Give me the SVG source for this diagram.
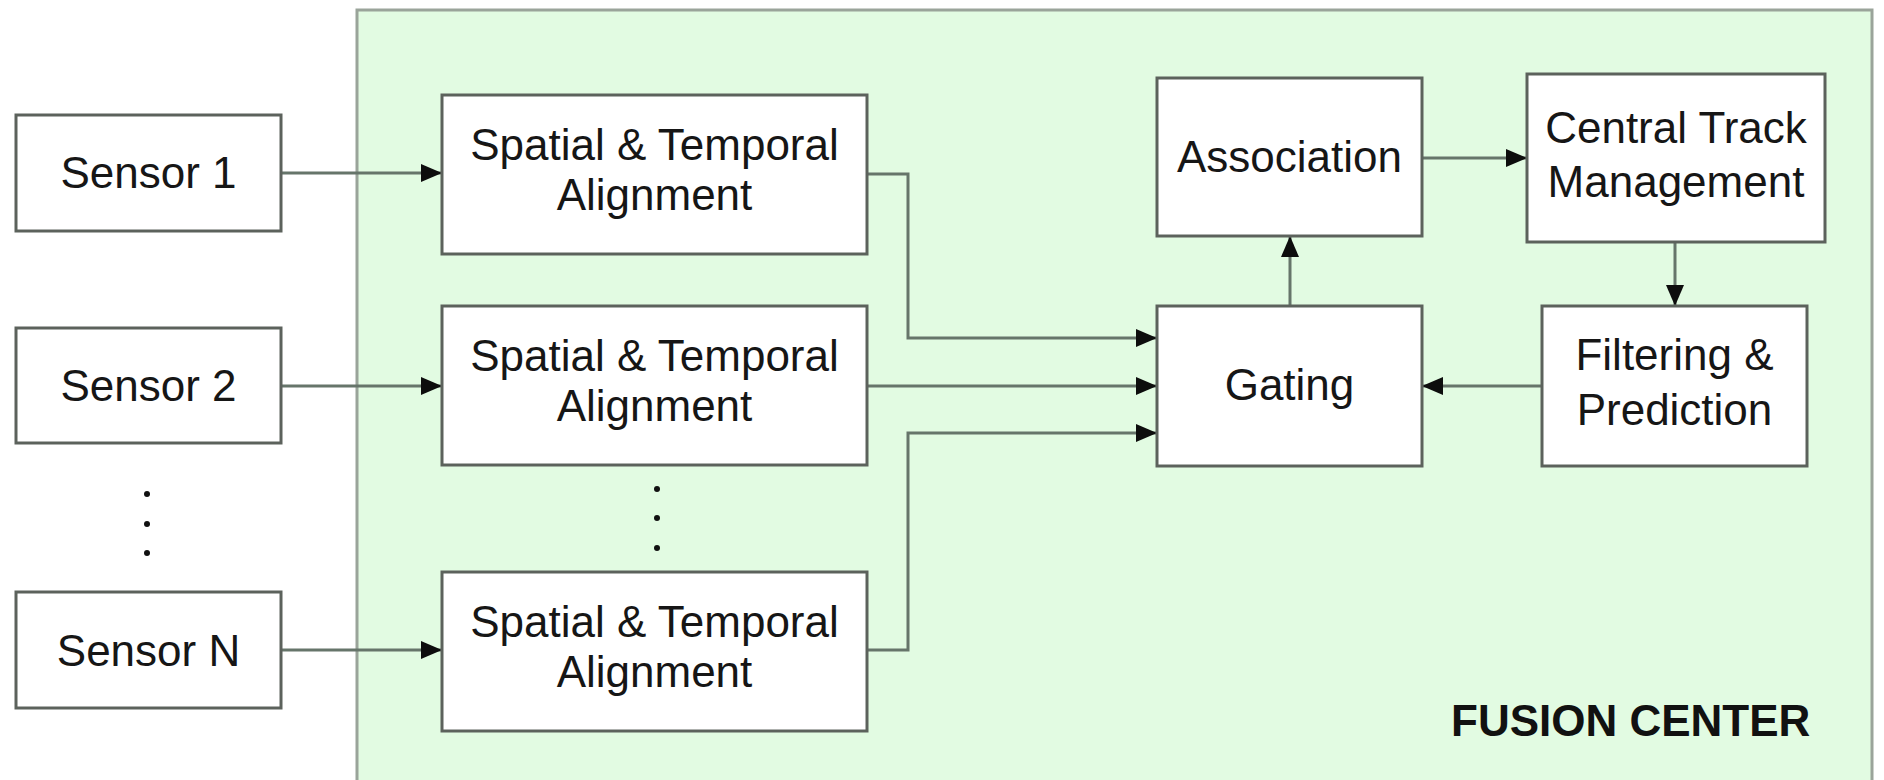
<svg xmlns="http://www.w3.org/2000/svg" width="1884" height="780" viewBox="0 0 1884 780">
<style>
.box{fill:#ffffff;stroke:#5c625c;stroke-width:3}
.t{font-family:"Liberation Sans",Arial,sans-serif;font-size:44px;fill:#161616;text-anchor:middle}
.b{font-family:"Liberation Sans",Arial,sans-serif;font-size:44px;font-weight:bold;fill:#111}
.c{fill:none;stroke:#66756a;stroke-width:3}
.dot{fill:#111}
</style>
<defs>
<marker id="ah" markerUnits="userSpaceOnUse" markerWidth="22" markerHeight="20" refX="21" refY="9" orient="auto">
<path d="M0,0 L21,9 L0,18 z" fill="#0d0d0d"/>
</marker>
</defs>
<rect width="1884" height="780" fill="#ffffff"/>
<g id="fusion-center">
<rect x="357" y="10" width="1515" height="800" fill="#e2fbe2" stroke="#9aa49a" stroke-width="3"/>
<text class="b" x="1451" y="736">FUSION CENTER</text>
</g>
<g id="connectors">
<path class="c" d="M281,173 H442" marker-end="url(#ah)"/>
<path class="c" d="M281,386 H442" marker-end="url(#ah)"/>
<path class="c" d="M281,650 H442" marker-end="url(#ah)"/>
<path class="c" d="M867,174 H908 V338 H1157" marker-end="url(#ah)"/>
<path class="c" d="M867,386 H1157" marker-end="url(#ah)"/>
<path class="c" d="M867,650 H908 V433 H1157" marker-end="url(#ah)"/>
<path class="c" d="M1290,306 V236" marker-end="url(#ah)"/>
<path class="c" d="M1422,158 H1527" marker-end="url(#ah)"/>
<path class="c" d="M1675,242 V306" marker-end="url(#ah)"/>
<path class="c" d="M1542,386 H1422" marker-end="url(#ah)"/>
</g>
<g id="sensor1"><rect class="box" x="16" y="115" width="265" height="116"/><text class="t" x="148.5" y="188">Sensor 1</text></g>
<g id="sensor2"><rect class="box" x="16" y="328" width="265" height="115"/><text class="t" x="148.5" y="401">Sensor 2</text></g>
<g id="sensorN"><rect class="box" x="16" y="592" width="265" height="116"/><text class="t" x="148.5" y="666">Sensor N</text></g>
<g id="sensor-dots"><circle class="dot" cx="147" cy="494" r="3"/><circle class="dot" cx="147" cy="524" r="3"/><circle class="dot" cx="147" cy="553" r="3"/></g>
<g id="align1"><rect class="box" x="442" y="95" width="425" height="159"/><text class="t" x="654.5" y="160">Spatial &amp; Temporal</text><text class="t" x="654.5" y="210">Alignment</text></g>
<g id="align2"><rect class="box" x="442" y="306" width="425" height="159"/><text class="t" x="654.5" y="371">Spatial &amp; Temporal</text><text class="t" x="654.5" y="421">Alignment</text></g>
<g id="align3"><rect class="box" x="442" y="572" width="425" height="159"/><text class="t" x="654.5" y="637">Spatial &amp; Temporal</text><text class="t" x="654.5" y="687">Alignment</text></g>
<g id="align-dots"><circle class="dot" cx="657" cy="489" r="3"/><circle class="dot" cx="657" cy="518" r="3"/><circle class="dot" cx="657" cy="548" r="3"/></g>
<g id="association"><rect class="box" x="1157" y="78" width="265" height="158"/><text class="t" x="1289.5" y="172">Association</text></g>
<g id="central-track"><rect class="box" x="1527" y="74" width="298" height="168"/><text class="t" x="1676" y="143">Central Track</text><text class="t" x="1676" y="197">Management</text></g>
<g id="gating"><rect class="box" x="1157" y="306" width="265" height="160"/><text class="t" x="1289.5" y="400">Gating</text></g>
<g id="filtering"><rect class="box" x="1542" y="306" width="265" height="160"/><text class="t" x="1674.5" y="370">Filtering &amp;</text><text class="t" x="1674.5" y="425">Prediction</text></g>
</svg>
